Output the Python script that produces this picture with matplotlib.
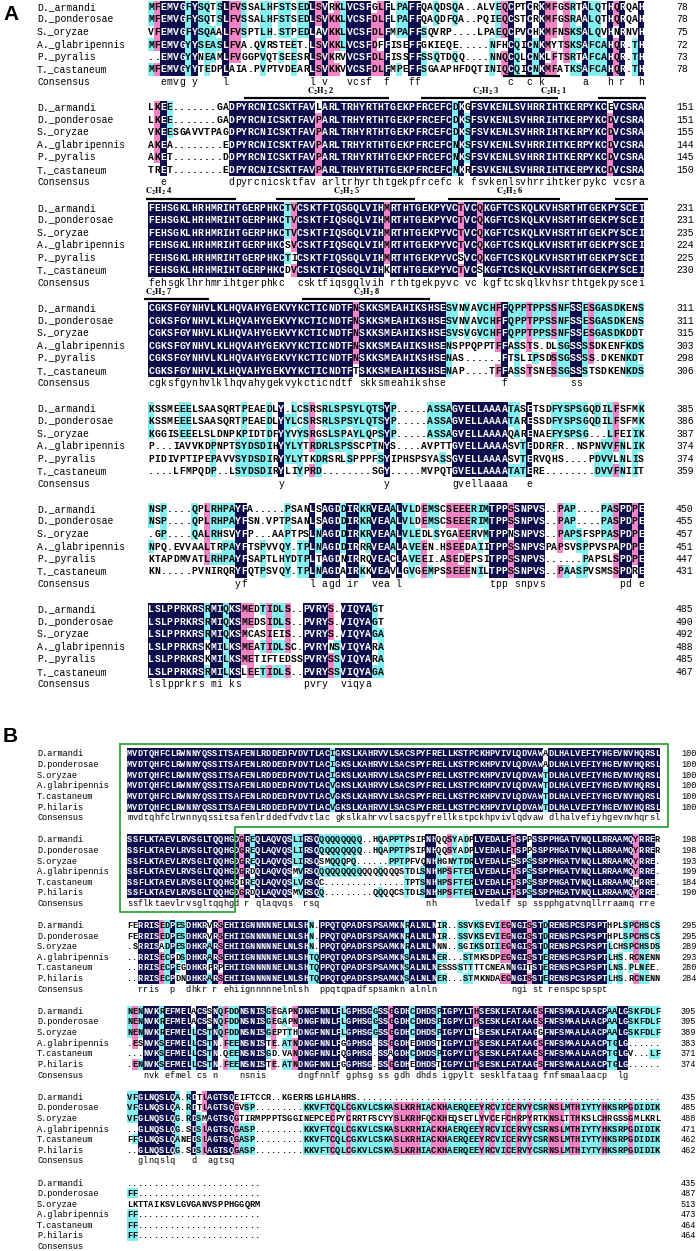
import numpy as np
import matplotlib
matplotlib.use('Agg')
import matplotlib.pyplot as plt
from collections import Counter

plt.rcParams['mathtext.fontset'] = 'stix'

# ---------------- data ----------------
names_a = ['D._armandi', 'D._ponderosae', 'S._oryzae', 'A._glabripennis', 'P._pyralis', 'T._castaneum']
names_b = ['D.armandi', 'D.ponderosae', 'S.oryzae', 'A.glabripennis', 'T.castaneum', 'P.hilaris']

a_block1 = [
    "MFEMVGFYSQTSLFVSSALHFSTSEDLSVRKLVCSFGLFLPAFFQAQDSQA..ALVEQCPTCRKMFGSRTALQTHQRQAH",
    "MFEMVGFYSQTSLFVSSALHFSTSEDLSVKKLVCSFDLFLPAFFQAQDFQA..PQIEQCSTCRKMFGSRAALQTHQRQAH",
    "VFEMVGFYSQAALFVSPTLH.STPEDLAVKKLVCSFDLFMPAFFSQVRP....LPAEQCPVCHKMFNSKSALQVHNRNVH",
    "MFEMVGYYSEASLFVA.QVRSTEET.LSVKKLVCSFDFFISEFFGKIEQE.....NFHCQICNKMYTSKSAFCAHQR.TH",
    "..EMVGYYNEAMLFVGGPVQTSEESRLSVKRVVCSFDLFISSFFSSQTDQQ....NNQCQLCNKLFTSRTAFCAHQR.TH",
    "MFEMVGYYTEDPLAIA.PVPTVDEARLSVKKVVCSFDLFMPEFFSGAAPHFDQTINIQCQICNKMFATKSAFCAHQR.TH",
]
a_block2 = [
    "LKEE.......GADPYRCNICSKTFAVLARLTRHYRTHTGEKPFRCEFCDKGFSVKENLSVHRRIHTKERPYKCEVCSRA",
    "LKEE.......GADPYRCNICSKTFAVPARLTRHYRTHTGEKPFRCEFCDKSFSVKENLSVHRRIHTKERPYKCDVCSRA",
    "VKEESGAVVTPAGDPYRCNICSKTFAVPARLTRHYRTHTGEKPFRCEFCDKSFSVKENLSVHRRIHTKERPYKCDVCSRA",
    "AKEA........EDPYRCNICSKTFAVPARLTRHYRTHTGEKPFRCEFCNKSFSVKENLSVHRRIHTKERPYKCDVCSRA",
    "AKET........DDPYRCNICSKTFAVPARLTRHYRTHTGEKPFRCEFCNKSFSVKENLSVHRRIHTKERPYKCDVCSRA",
    "TRET........EDPYRCNICSKTFAVPARLTRHYRTHTGEKPFRCEFCNKRFSVKENLSVHRRIHTKERPYKCDVCSRA",
]
a_block3 = [
    "FEHSGKLHRHMRIHTGERPHKCTVCSKTFIQSGQLVIHMRTHTGEKPYVCTVCQKGFTCSKQLKVHSRTHTGEKPYSCEI",
    "FEHSGKLHRHMRIHTGERPHKCTVCSKTFIQSGQLVIHMRTHTGEKPYVCTVCQKGFTCSKQLKVHSRTHTGEKPYSCEI",
    "FEHSGKLHRHMRIHTGERPHKCTVCSKTFIQSGQLVIHMRTHTGEKPYVCTVCQKGFTCSKQLKVHSRTHTGEKPYSCEI",
    "FEHSGKLHRHMRIHTGERPHKCSVCSKTFIQSGQLVIHMRTHTGEKPYVCTVCQKGFTCSKQLKVHSRTHTGEKPYSCEI",
    "FEHSGKLHRHMRIHTGERPHKCTICSKTFIQSGQLVIHMRTHTGEKPYVCSVCQKGFTCSKQLKVHSRTHTGEKPYSCEI",
    "FEHSGKLHRHMRIHTGERPHKCDVCSKTFIQSGQLVIHKRTHTGEKPYVCTVCSKGFTCSKQLKVHSRTHTGEKPYSCEI",
]
a_block4 = [
    "CGKSFGYNHVLKLHQVAHYGEKVYKCTICNDTFNSKKSMEAHIKSHSESVNVAVCHFFQPPTPPSSNFSSESGASDKENS",
    "CGKSFGYNHVLKLHQVAHYGEKVYKCTICNDTFNSKKSMEAHIKSHSESVNVAVCHFFQPPTPPSSNFSSESGASDKENS",
    "CGKSFGYNHVLKLHQVAHYGEKVYKCTICNDTFNSKKSMEAHIKSHSESVSVGVCHFFQPPTPPSSNFSSESGASDKDDT",
    "CGKSFGYNHVLKLHQVAHYGEKVYKCTICNDTFNSKKSMEAHIKSHSENSPPQPPTFFASSTS.DLSGSSSSDKENFKDS",
    "CGKSFGYNHVLKLHQVAHYGEKVYKCTICNDTFNSKKSMEAHIKSHSENAS......FTSLIPSDSSGSSSS.DKENKDT",
    "CGKSFGYNHVLKLHQVAHYGEKVYKCTICNDTFTSKKSMEAHIKSHSENAP....TFFASSTSNESSGSSSTSDKENKDS",
]
a_block5 = [
    "KSSMEEELSAASQRTPEAEDLY.LCSRSRLSPSYLQTSYP.....ASSAGVELLAAAATASETSDFYSPSGQDILFSFMK",
    "KSSMEEELSAASQRTPEAEDLYYLCSRSRLSPSYLQTSYP.....ASSAGVELLAAAATARESSDFYSPSGQDILFSFMK",
    "KGGISEEELSLDNPKPIDTDFYYVYSRGSLSPAYLQPSYP.....ASSAGVELLAAAAQARENAEFYSPSG...LFEIIK",
    "P...IAVVKDPNPTSYDSDIHYYLYTRDRLSPSSCPTNYS....AVPTTGVELLAAAASVTEDDRFR..NSPNVVFNLIK",
    "PIDIVPTIPEPAVVSYDSDIRYYLYTKDRSRLSPPPFSYIPHSPSYASSGVELLAAAASVTERVQHS....PDVVLNLIS",
    "....LFMPQDP..LSYDSDIRYLIYPRD........SGY.....MVPQTGVELLAAAATATERE........DVVFNIIT",
]
a_block6 = [
    "NSP....QPLRHPAYFA.....PSANLSAGDDIRKRVEAALVLDEMSCSEEERIMTPPSSNPVS..PAP....PASPDPE",
    "NSP....QPLRHPAYFSN.VPTPSANLSAGDDIRKRVEAALVLDEMSCSEEERIMTPPSSNPVS..PAP....PASPDPE",
    ".GP....QALRHSVYFP...AAPTPSLNAGDDIRKRVEAALVLEDLSYGAEERVMTPPNSNPVS..PAPSFSPPASPDPE",
    "NPQ.EVVAALTRPAYFTSPVVQY.TPLNAGDDIRRRVEAALAVEEN.HSEEDAIITPPSSNPVSPAPSVSPPVSPAPDPE",
    "KTAPDMVATLRHPAYFSAPTLHYDTPLTAGDNIRRQVEACLAVEEI.ASEDEPSITPPSSNPVS......PAPSLSPDPE",
    "KN.....PVNIRQRYFQTPSVQY.TPLNAGDAIRKKVEAVLGVGEMPSSEEENILTPPSSNPVS..PAASPVSMSSPDRE",
]
a_block7 = [
    "LSLPPRKRSRMIQKSMEDTIDLS..PVRYS.VIQYAGT",
    "LSLPPRKRSRMIQKSMEDSIDLS..PVRYS.VIQYAGT",
    "LSLPPRKRSRMIQKSMCASIEIS..PVRYS.VIQYAGA",
    "LSLPPRKRSKMILKSMEATIDLSC.PVRYNSVIQYARA",
    "LSLPPRKRSKMILKSMETIFTEDSSPVRYSSVIQYARA",
    "LSLPPRKRSRMILKSLEETIDLS..PVRYSSVIQYAGA",
]
a_blocks = [a_block1, a_block2, a_block3, a_block4, a_block5, a_block6, a_block7]
a_ends = [
    [78, 78, 75, 72, 73, 78],
    [151, 151, 155, 144, 145, 150],
    [231, 231, 235, 224, 225, 230],
    [311, 311, 315, 303, 298, 306],
    [385, 386, 387, 374, 374, 359],
    [450, 455, 457, 451, 447, 431],
    [485, 490, 492, 488, 485, 467],
]

b_block1 = [
    "MVDTQHFCLRWNNYQSSITSAFENLRDDEDFVDVTLACIGKSLKAHRVVLSACSPYFRELLKSTPCKHPVIVLQDVAWADLHALVEFIYHGEVNVHQRSL",
    "MVDTQHFCLRWNNYQSSITSAFENLRDDEDFVDVTLACIGKSLKAHRVVLSACSPYFRELLKSTPCKHPVIVLQDVAWADLHALVEFIYHGEVNVHQRSL",
    "MVDTQHFCLRWNNYQSSITSAFENLRDDEDFVDVTLACIGKSLKAHRVVLSACSPYFRELLKSTPCKHPVIVLQDVAWTDLHALVEFIYHGEVNVHQRSL",
    "MVDTQHFCLRWNNYQSSITSAFENLRDDEDFVDVTLACVGKSLKAHRVVLSACSPYFRELLKSTPCKHPVIVLQDVAWTDLHALVEFIYHGEVNVHQRSL",
    "MVDTQHFCLRWNNYQSSITSAFENLRDDEDFVDVTLACVGKSLKAHRVVLSACSPYFRELLKSTPCKHPVIVLQDVAWTDLHALVEFIYHGEVNVHQRSL",
    "MVDTQHFCLRWNNYQSSITSAFENLRDDEDFVDVTLACVGKSLKAHRVVLSACSPYFRELLKSTPCKHPVIVLQDVAWTDLHALVEFIYHGEVNVHQRSL",
]
b_block2 = [
    "SSFLKTAEVLRVSGLTQQHGDGREQLAQVQ" + "SLIRSQ" + "Q" * 8 + "." * 2
    + "HQAPPTPSIPNHQQSYADPLVEDALFTSPPSSPPHGATVNQLLRRAAMQYRRER",
    "SSFLKTAEVLRVSGLTQQHGDGREQLAQVQ" + "SLIRSQ" + "Q" * 8 + "." * 2
    + "HQAPPTPSIPNHQQSYADPLVEDALFTSPPSSPPHGATVNQLLRRAAMQYRRER",
    "SSFLKTAEVLRVSGLTQQHGDGREQLAQVQ" + "SLIRSQ" + "SMQQQPQ" + "." * 6
    + "PPTPFVQNHHGNYTDRLVEDALFSSPSSSPPHGATVNQLLRRAAMQYRRE.",
    "SSFLKTAEVLRVSGLTQQHGDGRDQLAQVQ" + "SMVRSQ" + "Q" * 15
    + "STDLSNHHPSFTERLVEDALFTSPSSSPPHGATVNQLLRRAAMQYRRE.",
    "SSFLKTAEVLRVSGLTQQHGDDREQLAQVQ" + "SLVRSQ" + "C" + "." * 15
    + "TPTSNHHPSFTERLVEDALFTSPSSSPPHGATVNQLLRRAAMQHRRE.",
    "SSFLKTAEVLRVSGLTQQHGDGRDQLAQVQ" + "SMVRSQ" + "Q" + "." * 9
    + "QQQQCSTDLSNHHPSFTERLVEDALFTSPSSSPPHGATVNQLLRRAAMQYRRE.",
]
b_block3 = [
    "FERRISEDPESDHKRVRSEHIIGNNNNNELNLSHN.PPQTQPADFSPSAMKNRALNLNIR..SSVKSEVIEGNGISSTDRENSPCSPSPTHPLSPCHSCS",
    "FERRISEDPESDHKRVRSEHIIGNNNNNELNLSHN.PPQTQPADFSPSAMKNRALNLNIR..SSVKSEVIEGNGISSTDRENSPCSPSPTHPLSPCHSCS",
    ".SRRISADPESDHKRARSEHIIGNNNNNELNLSHN.PPQTQPADFSPSAMKNRALNLNNN..SGIKSDIIEGNGISSTDRENSPCSPSPTLCHSPCHSDS",
    "..RRISECPDSDHKRARSEHIIGNNNNNELNLSHTQPPQTQPADFSPSAMKNSALNLNER...STMKSDPEGNGISSTERENSPCSPSPTLHS.RCNENN",
    "..RRISECPEGDHKRPRPEHIIGNNNNNELNLSHTQPPQTQPADFSPSAMKNSALNLNESSSSTTTTCNEANNGITSTERENSPCSPSPTLNS.PLNEE.",
    "..RRISECPDNDHKRARSEHIIGNNNNNELNLSHTQPPQTQPADFSPSAMKNSALNLNER...STMKNDAEGNGISSTERENSPCSPSPTLHS.RCNENN",
]
b_block4 = [
    "NENNVKREFMELACSSNQFDDNSNISGEGAPNDNGFNNLFLGPHSGGSSGGDHCDHDSPIGPYLTHSESKLFATAAGSFNFSMAALAACPAALGSKFDLF",
    "NENNVKREFMELACSSNQFDDNSNISGEGAPNDNGFNNLFLGPHSGGSSGGDHCDHDSPIGPYLTHSESKLFATAAGSFNFSMAALAACPAALGSKFDLF",
    "NENNVKREFMELLCSTNQFDDNSNISGEPTTHDNGFNNLFLGPHSGGSSGGDHCDHDSPIGPYLTLSESKLFATAAGGFNFSMAALAACPAALGSKFDLF",
    ".ESNVKSEFMELLCSTN.FEENSNISTE.ATNDNGFNNLFGGPHSG.SSGGDHEDHDSTIGPYLTHSESKLFATAAGSFNFSMAALAACPTGLG" + "." * 6,
    "...NVKSEFMELLCSTN.QEENSNISGD.VANDNGFNNLFQGPHSG.SSAGDHCDHDSPIGPYLTHSESKLFATAAGSFNFSMAALAACPTGLGV...LF",
    ".ENNVKSEFMELLCSTN.FEENSNISTE.ATNDNGFNNLFGGPHSG.SSGGDHEDHDSTIGPYLTHSESKLFATAAGSFNFSMAALAACPTGLG" + "." * 6,
]
zf_tail = "KKVFTCQLCGKVLCSKASLKRHIACKHAERQEEYRCVICERVYCSRNSLMTHIYTYHKSRPGDIDIK"
b_block5 = [
    "VFGLNQSLQA.RDTLAGTSQEIFTCCR..KGERRSLGHLAHRS" + "." * 57,
    "VFGLNQSLQA.RDTLAGTSQGVSP" + "." * 9 + zf_tail,
    "VFGLNQSLQG.RDSMAGTSQGTIRMPPPTSGGINEPCECPYCRRTFSCYYSLKRHFQCKHEQSETLYVCEFCHRPYRTKNSLTTHKSLCHRGSSGMLKRL",
    "..GLNQSLQG.SDSLAGTSQGASP" + "." * 9 + zf_tail,
    "FFGLNQSLQANEDSLAGTSQGASP" + "." * 9 + zf_tail,
    "..GLNQSLQG.SDSLAGTSQGASP" + "." * 9 + zf_tail,
]
b_block6 = [
    "." * 25,
    "FF" + "." * 23,
    "LKTTAIKSVLGVGANVSPPHGGQRM",
    "FF" + "." * 23,
    "FF" + "." * 23,
    "FF" + "." * 23,
]
b_blocks = [b_block1, b_block2, b_block3, b_block4, b_block5, b_block6]
b_ends = [
    [100, 100, 100, 100, 100, 100],
    [198, 198, 193, 199, 184, 190],
    [295, 295, 289, 293, 280, 284],
    [395, 395, 389, 383, 371, 374],
    [435, 485, 488, 471, 462, 462],
    [435, 487, 513, 473, 464, 464],
]

# C2H2 zinc-finger marks under panel A blocks (column units)
zf_above_a = (57.3, 66.5, 65.5, '1')
zf_bars_a = [
    [(15.5, 38.8), (44.1, 66.2), (72.6, 80.4)],
    [(-0.4, 14.2), (20.6, 43.0), (48.4, 66.5), (75.4, 80.6)],
    [(-0.7, 9.8), (24.9, 45.5)],
]
zf_labels_a = [
    [(27.8, '2'), (54.4, '3')],
    [(1.8, '4'), (32.0, '5'), (58.4, '6')],
    [(1.8, '7'), (35.2, '8')],
]

# ---------------- drawing ----------------
SHADES = np.array([[1, 1, 1],
                   [0x82 / 255, 0xf0 / 255, 0xf0 / 255],
                   [0xf2 / 255, 0x84 / 255, 0xc6 / 255],
                   [0x0e / 255, 0x0e / 255, 0x4c / 255]])
MONO = 'Liberation Mono'

fig = plt.figure(figsize=(6.99, 12.51), dpi=100)
ax = fig.add_axes([0, 0, 1, 1])


def draw_block(seqs, names, ends, x0, cw, y0, rh, fs, num_x, name_x=37):
    ncol = max(len(s) for s in seqs)
    seqs = [s.ljust(ncol, '.') for s in seqs]
    nrow = len(seqs)
    levels = np.zeros((nrow, ncol), int)
    cons = []
    for j in range(ncol):
        col = [s[j] for s in seqs]
        cnt = Counter(c for c in col if c != '.')
        for i, c in enumerate(col):
            k = cnt.get(c, 0) if c != '.' else 0
            levels[i, j] = 3 if k == nrow else 2 if k == nrow - 1 else 1 if k >= 3 else 0
        full = bool(cnt) and max(cnt.values()) == nrow
        cons.append(col[0].lower() if full else ' ')
    ax.imshow(SHADES[levels], extent=[x0, x0 + ncol * cw, y0 + (nrow - 0.5) * rh, y0 - 0.5 * rh],
              interpolation='nearest', aspect='auto', zorder=1)
    for i, s in enumerate(seqs):
        y = y0 + i * rh
        ax.text(name_x, y, names[i], fontsize=fs, family=MONO, ha='left', va='center')
        for j, ch in enumerate(s):
            ax.text(x0 + (j + 0.5) * cw, y, ch, fontsize=fs, family=MONO, fontweight='bold',
                    ha='center', va='center',
                    color='white' if levels[i, j] == 3 else 'black', zorder=2)
        ax.text(num_x, y, str(ends[i]), fontsize=fs, family=MONO, ha='left', va='center')
    yc = y0 + nrow * rh
    ax.text(name_x, yc, 'Consensus', fontsize=fs, family=MONO, ha='left', va='center')
    for j, ch in enumerate(cons):
        if ch != ' ':
            ax.text(x0 + (j + 0.5) * cw, yc, ch, fontsize=fs, family=MONO, ha='center', va='center')
    return yc


def zf_label(x, y, num):
    ax.text(x, y, r'$\mathbf{C_2H_2}$ ' + num, fontsize=6, family='Liberation Serif',
            fontweight='bold', ha='center', va='center')


# panel A
ax0_a, cw_a, rh_a = 148, 6.2, 12.5
for b, seqs in enumerate(a_blocks):
    y0 = 7 + 100.4 * b
    yc = draw_block(seqs, names_a, a_ends[b], ax0_a, cw_a, y0, rh_a, 7.0, 676)
    if b == 0:
        s0, s1, lc, num = zf_above_a
        ax.hlines(yc - 0.45 * rh_a, ax0_a + s0 * cw_a, ax0_a + s1 * cw_a, color='black', lw=1.6)
        zf_label(ax0_a + lc * cw_a, yc + 0.72 * rh_a, num)
    if b < len(zf_bars_a):
        for s0, s1 in zf_bars_a[b]:
            ax.hlines(yc + 1.3 * rh_a, ax0_a + s0 * cw_a, ax0_a + s1 * cw_a, color='black', lw=1.6)
        for lc, num in zf_labels_a[b]:
            zf_label(ax0_a + lc * cw_a, yc + 0.75 * rh_a, num)

# panel B
ax0_b, cw_b, rh_b = 127, 5.33, 10.6
cons_b = []
for b, seqs in enumerate(b_blocks):
    y0 = 754 + 85.8 * b
    cons_b.append(draw_block(seqs, names_b, b_ends[b], ax0_b, cw_b, y0, rh_b, 6.2, 681))

# green box around the conserved N-terminal region
left, right = ax0_b - 7, ax0_b + 100 * cw_b + 8
top = 744
step_y = cons_b[0] + 0.85 * rh_b
inner_x = ax0_b + 20.3 * cw_b
bottom = cons_b[1] + 0.85 * rh_b
ax.plot([left, right, right, inner_x, inner_x, left, left],
        [top, top, step_y, step_y, bottom, bottom, top], color='#34a33a', lw=1.3, zorder=3)

ax.text(3, 15, 'A', fontsize=15, fontweight='bold', family='Liberation Sans', va='center', ha='left')
ax.text(3, 737, 'B', fontsize=15, fontweight='bold', family='Liberation Sans', va='center', ha='left')

ax.set_xlim(0, 699)
ax.set_ylim(1251, 0)
ax.axis('off')
fig.savefig('out.png', dpi=100)
